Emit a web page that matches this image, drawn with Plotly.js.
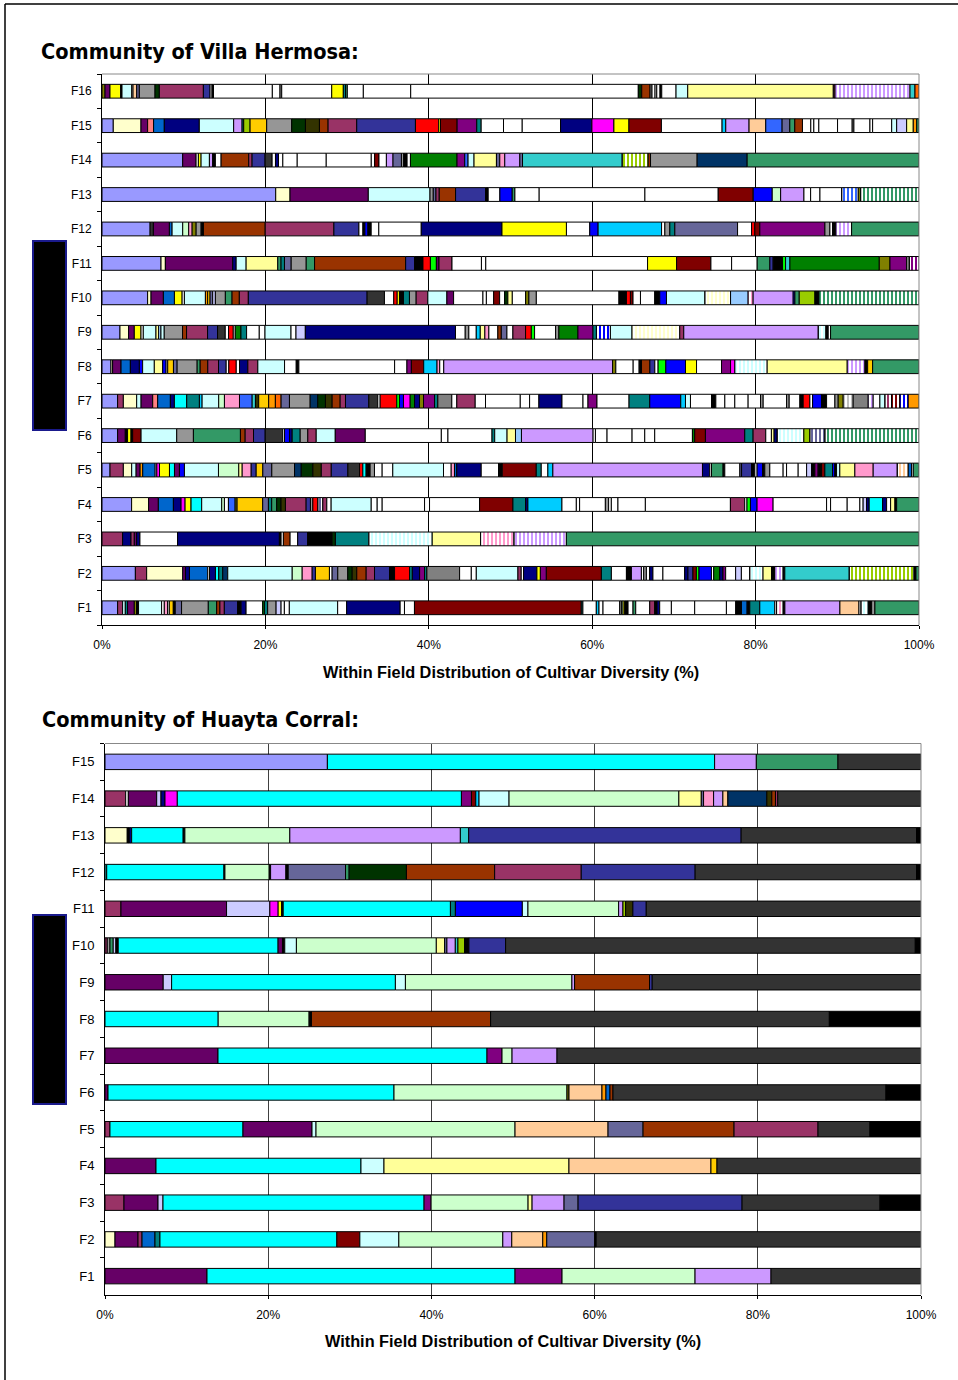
<!DOCTYPE html>
<html><head><meta charset="utf-8">
<script src="https://cdn.plot.ly/plotly-3.0.1.min.js"></script>
<style>html,body{margin:0;padding:0;background:#fff;}#chart{width:958px;height:1380px;}</style>
</head><body><div id="chart"></div>
<script>
// Cultivar colour keys (a trailing * means a striped fill)
const PAL = {lv:'#9999FF',pl:'#993366',ly:'#FFFFCC',lt:'#CCFFFF',dp:'#660066',co:'#FF8080',oc:'#0066CC',ib:'#CCCCFF',
 nv:'#000080',mg:'#FF00FF',ye:'#FFFF00',cy:'#00FFFF',pu:'#800080',dr:'#800000',te:'#008080',bl:'#0000FF',sk:'#00CCFF',
 lg:'#CCFFCC',y2:'#FFFF99',pb:'#99CCFF',ro:'#FF99CC',la:'#CC99FF',ta:'#FFCC99',lb:'#3366FF',aq:'#33CCCC',li:'#99CC00',
 go:'#FFCC00',lo:'#FF9900',or:'#FF6600',bg:'#666699',g4:'#969696',dt:'#003366',sg:'#339966',dg:'#003300',o2:'#333300',
 br:'#993300',in:'#333399',g8:'#333333',bk:'#000000',wh:'#FFFFFF',re:'#FF0000',gr:'#00FF00',gn:'#008000',ol:'#808000',
 g5:'#808080',si:'#C0C0C0'};

// ---- Community of Villa Hermosa: [share %, cultivar colour] ----
const VH_F16 = [[0.37,'ol'],[0.61,'dp'],[1.31,'ye'],[0.16,'bk'],[1.19,'lt'],[0.16,'wh'],[0.45,'ta'],[0.32,'bg'],[1.92,'g4'],[0.53,'dg'],[5.39,'pl'],[0.82,'in'],[0.24,'wh'],[0.18,'bk'],[7.20,'wh'],[0.94,'wh'],[0.21,'g4'],[6.12,'wh'],[1.42,'ye'],[0.27,'te'],[0.22,'sg'],[1.96,'wh'],[5.80,'wh'],[27.86,'wh'],[0.42,'dg'],[1.02,'br'],[0.24,'g4'],[0.37,'wh'],[0.21,'wh'],[0.40,'wh'],[0.21,'bk'],[1.75,'wh'],[1.43,'lt'],[17.82,'y2'],[0.21,'pl'],[9.18,'la*'],[0.61,'aq'],[0.49,'or']];
const VH_F15 = [[1.38,'lv'],[3.39,'ly'],[0.81,'dp'],[0.73,'co'],[1.31,'oc'],[4.28,'nv'],[4.20,'lt'],[1.03,'la'],[0.2,'te'],[0.78,'li'],[2.03,'go'],[3.06,'g4'],[1.68,'dg'],[1.71,'o2'],[1.06,'br'],[3.50,'pl'],[7.18,'in'],[2.85,'re'],[0.21,'ye'],[2.04,'dr'],[2.40,'pu'],[0.54,'te'],[2.73,'wh'],[2.29,'wh'],[4.69,'wh'],[3.83,'nv'],[2.69,'mg'],[1.84,'ye'],[3.97,'dr'],[7.42,'wh'],[0.45,'sk'],[2.85,'la'],[2.04,'ta'],[2.0,'lb'],[0.94,'bg'],[0.61,'sg'],[0.94,'br'],[1.02,'wh'],[0.37,'wh'],[0.61,'wh'],[2.29,'wh'],[1.79,'wh'],[0.21,'g4'],[1.96,'wh'],[0.33,'wh'],[2.33,'wh'],[0.61,'lt'],[1.22,'ib'],[0.81,'y2'],[0.42,'lo'],[0.28,'sg']];
const VH_F14 = [[9.87,'lv'],[1.64,'dp'],[0.28,'wh'],[0.33,'ye'],[1.02,'lt'],[0.4,'la'],[0.33,'bk'],[0.7,'wh'],[3.38,'br'],[0.41,'pl'],[1.59,'in'],[0.86,'g8'],[0.41,'wh'],[0.37,'nv'],[0.53,'wh'],[1.76,'wh'],[3.55,'wh'],[5.51,'wh'],[0.41,'wh'],[0.53,'dr'],[0.91,'wh'],[0.81,'la'],[1.03,'bg'],[0.28,'g4'],[0.41,'bk'],[0.41,'wh'],[5.7,'gn'],[0.94,'pu'],[0.41,'lb'],[0.73,'lt'],[2.74,'y2'],[0.41,'bg'],[0.61,'ro'],[1.84,'la'],[0.33,'bg'],[12.19,'aq'],[3.18,'li*'],[0.29,'br'],[5.7,'g4'],[6.12,'dt'],[21.02,'sg']];
const VH_F13 = [[21.26,'lv'],[1.75,'ly'],[9.58,'dp'],[7.55,'lt'],[0.4,'g4'],[0.33,'bg'],[0.4,'pl'],[2.0,'br'],[3.67,'in'],[0.32,'bk'],[1.43,'wh'],[1.51,'bl'],[0.33,'sg'],[2.97,'wh'],[12.94,'wh'],[8.97,'wh'],[4.28,'dr'],[2.33,'bl'],[1.03,'lg'],[2.85,'la'],[0.82,'wh'],[1.14,'wh'],[2.66,'wh'],[2.03,'lb*'],[0.29,'ol'],[7.14,'sg*']];
const VH_F12 = [[5.88,'lv'],[0.4,'g8'],[1.96,'dp'],[0.33,'oc'],[1.3,'lt'],[0.73,'lg'],[0.42,'ro'],[0.49,'ol'],[0.61,'g4'],[0.28,'bk'],[7.55,'br'],[8.4,'pl'],[3.06,'in'],[0.49,'wh'],[0.24,'bk'],[0.37,'bl'],[0.4,'bk'],[0.93,'wh'],[5.19,'wh'],[9.87,'nv'],[7.88,'ye'],[2.85,'wh'],[1.02,'bl'],[7.76,'sk'],[0.4,'wh'],[0.61,'g4'],[0.61,'te'],[7.67,'bg'],[1.71,'wh'],[0.4,'re'],[0.61,'dr'],[7.96,'pu'],[0.61,'g4'],[0.33,'wh'],[0.4,'bk'],[1.92,'la*'],[8.24,'sg']];
const VH_F11 = [[7.22,'lv'],[0.53,'ly'],[8.24,'dp'],[0.42,'nv'],[1.22,'lt'],[3.87,'y2'],[0.4,'sg'],[0.42,'te'],[0.82,'bg'],[1.84,'g4'],[1.02,'sg'],[11.14,'br'],[1.1,'in'],[1.02,'bk'],[0.91,'re'],[0.73,'gr'],[0.32,'dp'],[1.59,'pl'],[3.6,'wh'],[0.53,'wh'],[19.79,'wh'],[3.55,'ye'],[4.2,'dr'],[2.53,'wh'],[3.13,'wh'],[1.55,'sg'],[0.4,'in'],[1.15,'bk'],[0.37,'gr'],[0.53,'aq'],[10.93,'gn'],[1.31,'ol'],[2.04,'pu'],[0.32,'g4'],[1.19,'pu*']];
const VH_F10 = [[5.58,'lv'],[0.42,'ly'],[1.51,'dp'],[1.35,'oc'],[0.94,'ye'],[0.28,'wh'],[2.57,'lt'],[0.28,'lo'],[0.29,'go'],[0.32,'bg'],[0.33,'ib'],[1.22,'g4'],[0.82,'sg'],[0.89,'br'],[1.1,'pl'],[14.53,'in'],[2.12,'g8'],[1.14,'wh'],[0.42,'re'],[0.28,'ye'],[0.49,'bk'],[0.73,'te'],[0.82,'g4'],[1.43,'pl'],[2.33,'lt'],[0.82,'dp'],[3.59,'wh'],[0.42,'wh'],[0.89,'wh'],[0.73,'dr'],[0.61,'wh'],[0.4,'dg'],[0.54,'y2'],[1.63,'wh'],[0.4,'ol'],[0.91,'g4'],[10.11,'wh'],[0.91,'bk'],[0.49,'re'],[0.32,'dr'],[0.91,'wh'],[1.75,'wh'],[0.61,'bk'],[0.82,'bl'],[4.69,'lt'],[3.15,'ly*'],[2.15,'pb'],[0.61,'ro*'],[4.9,'la'],[0.21,'bl'],[0.53,'sg'],[1.92,'li'],[0.49,'bk'],[12.24,'sg*']];
const VH_F9 = [[2.2,'lv'],[1.05,'ly'],[0.7,'dp'],[0.82,'ye'],[0.28,'wh'],[1.55,'lt'],[0.32,'y2'],[0.29,'pb'],[0.4,'lt'],[2.24,'g4'],[0.49,'br'],[2.57,'pl'],[1.22,'in'],[0.94,'g8'],[0.4,'wh'],[0.58,'re'],[0.24,'wh'],[0.7,'gn'],[0.69,'te'],[1.55,'wh'],[0.7,'wh'],[3.18,'lt'],[0.61,'wh'],[1.14,'ib'],[18.36,'nv'],[1.19,'wh'],[0.44,'g4'],[0.91,'wh'],[0.49,'sk'],[0.56,'y2'],[0.49,'ro'],[1.1,'wh'],[0.42,'br'],[0.69,'bg'],[0.73,'wh'],[1.55,'pl'],[0.7,'re'],[0.4,'gr'],[2.57,'wh'],[0.4,'g4'],[2.33,'gn'],[1.84,'pu'],[0.42,'te'],[1.71,'bl*'],[2.64,'lt'],[5.84,'ly*'],[0.49,'pl'],[16.44,'la'],[0.94,'lt*'],[0.28,'bk'],[0.29,'wh'],[10.81,'sg']];
const VH_F8 = [[1.1,'lv'],[0.2,'ly'],[1.03,'dp'],[1.14,'oc'],[1.1,'nv'],[0.4,'bl'],[1.43,'lt'],[1.02,'y2'],[0.42,'bl'],[0.2,'wh'],[0.7,'go'],[0.45,'bg'],[2.45,'g4'],[0.37,'sg'],[0.93,'br'],[1.31,'pl'],[0.94,'in'],[0.32,'wh'],[0.91,'re'],[0.4,'wh'],[1.02,'nv'],[1.22,'pl'],[3.27,'lt'],[1.43,'wh'],[0.32,'bk'],[11.71,'wh'],[1.51,'wh'],[0.54,'pu'],[1.51,'dr'],[1.63,'sk'],[0.33,'ro'],[0.49,'wh'],[20.65,'la'],[0.4,'ol'],[2.12,'wh'],[0.73,'wh'],[0.29,'bk'],[1.02,'br'],[0.61,'in'],[0.4,'wh'],[0.94,'gr'],[2.41,'bl'],[1.35,'ye'],[3.06,'wh'],[1.1,'pu'],[0.53,'mg'],[3.95,'lt*'],[9.79,'y2'],[2.17,'la*'],[0.33,'bk'],[0.61,'go'],[5.67,'sg']];
const VH_F7 = [[1.91,'lv'],[0.7,'pl'],[1.63,'ly'],[0.54,'lt'],[1.42,'dp'],[0.61,'co'],[1.55,'oc'],[0.49,'nv'],[1.51,'cy'],[1.55,'te'],[0.33,'sk'],[2.03,'lt'],[0.7,'lg'],[1.84,'ro'],[1.55,'lb'],[0.4,'aq'],[0.4,'o2'],[1.22,'go'],[0.82,'lo'],[0.7,'or'],[1.02,'bg'],[2.53,'g4'],[0.93,'dt'],[0.94,'dg'],[0.82,'o2'],[0.98,'br'],[0.65,'pl'],[2.85,'in'],[1.1,'g8'],[0.29,'wh'],[2.03,'re'],[0.33,'gr'],[0.49,'bl'],[0.82,'mg'],[0.53,'gn'],[0.61,'nv'],[0.49,'ol'],[1.35,'pu'],[0.4,'te'],[1.71,'g5'],[0.61,'wh'],[2.25,'pl'],[1.26,'wh'],[4.25,'wh'],[1.14,'wh'],[1.14,'wh'],[2.82,'nv'],[2.57,'wh'],[0.61,'wh'],[1.1,'pu'],[3.92,'wh'],[2.53,'te'],[3.79,'bl'],[0.58,'sk'],[0.61,'lt'],[2.57,'wh'],[0.53,'bk'],[1.1,'wh'],[1.22,'wh'],[1.63,'wh'],[1.52,'wh'],[0.32,'g4'],[2.86,'wh'],[0.32,'g4'],[1.31,'wh'],[0.4,'bk'],[0.82,'re'],[0.33,'wh'],[1.1,'bl'],[0.61,'bk'],[1.02,'wh'],[0.4,'g4'],[0.61,'ol'],[1.22,'si*'],[1.84,'g5'],[0.61,'la*'],[0.82,'wh'],[0.61,'lt'],[0.82,'pl*'],[1.02,'dr*'],[1.02,'bl*'],[1.31,'lo']];
const VH_F6 = [[1.91,'lv'],[0.94,'dp'],[0.28,'bk'],[0.42,'ye'],[0.2,'bk'],[1.03,'dr'],[4.36,'lt'],[2.04,'g4'],[5.75,'sg'],[0.58,'br'],[1.02,'pl'],[1.43,'in'],[2.15,'g8'],[0.21,'wh'],[0.61,'bl'],[0.33,'nv'],[0.98,'te'],[0.93,'g4'],[1.03,'pl'],[2.33,'lt'],[3.67,'dp'],[9.3,'wh'],[0.81,'wh'],[5.39,'wh'],[0.33,'te'],[1.51,'lt'],[1.03,'y2'],[0.73,'pb'],[8.76,'la'],[0.29,'wh'],[1.42,'wh'],[3.06,'wh'],[1.55,'wh'],[1.22,'wh'],[4.61,'wh'],[0.28,'gn'],[1.31,'dr'],[4.81,'pu'],[1.02,'te'],[1.55,'pl'],[0.69,'wh'],[0.33,'y2'],[0.37,'nv'],[3.27,'lt*'],[0.73,'li'],[1.84,'bg*'],[11.51,'sg*']];
const VH_F5 = [[0.98,'lv'],[1.63,'pl'],[1.02,'ly'],[0.54,'lt'],[0.49,'dp'],[0.32,'lo'],[1.52,'oc'],[0.2,'wh'],[0.33,'mg'],[1.22,'ye'],[0.61,'cy'],[0.61,'dp'],[0.61,'bl'],[4.16,'lt'],[2.48,'lg'],[0.42,'y2'],[1.1,'ro'],[0.61,'in'],[0.81,'go'],[1.1,'bg'],[2.78,'g4'],[0.82,'dt'],[1.42,'dg'],[1.03,'o2'],[1.22,'pl'],[2.03,'in'],[1.43,'g8'],[0.4,'re'],[0.4,'cy'],[0.49,'bk'],[0.53,'g4'],[0.94,'wh'],[1.3,'wh'],[6.2,'lt'],[0.94,'wh'],[0.4,'ro'],[0.28,'oc'],[2.99,'nv'],[2.12,'wh'],[0.45,'bk'],[4.16,'dr'],[0.61,'te'],[0.81,'wh'],[0.61,'sk'],[18.29,'la'],[0.89,'nv'],[0.21,'wh'],[1.42,'sg'],[0.21,'bk'],[1.84,'wh'],[0.21,'bg'],[1.22,'in'],[0.4,'bk'],[0.28,'wh'],[0.66,'bl'],[0.28,'bk'],[0.61,'g4'],[1.63,'wh'],[0.42,'wh'],[1.42,'wh'],[1.03,'wh'],[0.61,'ib'],[0.4,'bk'],[0.4,'pu'],[0.42,'bk'],[0.4,'dr'],[0.94,'te'],[0.28,'bl'],[0.21,'bk'],[0.4,'lt'],[1.84,'y2'],[2.24,'ro'],[2.94,'la'],[1.35,'ta*'],[0.4,'oc'],[0.21,'wh'],[0.7,'sg']];
const VH_F4 = [[3.62,'lv'],[2.08,'ly'],[1.19,'dp'],[1.84,'oc'],[0.94,'nv'],[0.49,'mg'],[0.73,'ye'],[1.3,'cy'],[2.45,'lt'],[0.33,'lg'],[0.49,'wh'],[0.82,'lb'],[0.24,'ol'],[3.13,'go'],[0.7,'bg'],[0.4,'te'],[0.61,'sg'],[0.53,'dg'],[0.54,'o2'],[2.53,'pl'],[0.53,'in'],[0.29,'g4'],[0.61,'re'],[0.61,'bg*'],[0.49,'pl'],[0.53,'wh'],[4.9,'lt'],[0.73,'wh'],[0.61,'wh'],[5.18,'wh'],[0.61,'wh'],[6.12,'wh'],[4.08,'dr'],[1.55,'te'],[0.28,'nv'],[4.16,'sk'],[1.76,'wh'],[0.4,'wh'],[3.15,'wh'],[0.4,'g4'],[0.33,'wh'],[0.81,'wh'],[3.35,'wh'],[10.4,'wh'],[1.75,'pl'],[0.28,'wh'],[0.42,'gr'],[0.81,'bl'],[1.96,'mg'],[6.54,'wh'],[0.49,'wh'],[2.03,'wh'],[1.55,'wh'],[0.4,'wh'],[0.42,'ib'],[0.32,'nv'],[1.64,'cy'],[0.49,'nv'],[0.49,'wh'],[0.53,'y2'],[0.21,'bk'],[2.73,'sg']];
const VH_F3 = [[2.52,'pl'],[1.03,'nv'],[0.4,'pl'],[0.29,'dp'],[0.4,'nv'],[4.6,'wh'],[12.45,'nv'],[0.21,'bk'],[0.28,'wh'],[0.82,'br'],[0.93,'wh'],[1.22,'in'],[2.99,'bk'],[0.4,'dg'],[4.08,'te'],[7.76,'lt*'],[5.91,'y2'],[4.08,'ro*'],[6.41,'la*'],[43.12,'sg']];
const VH_F2 = [[4.08,'lv'],[1.38,'pl'],[4.41,'ly'],[0.33,'dp'],[0.49,'nv'],[2.24,'oc'],[0.21,'wh'],[0.73,'nv'],[0.4,'cy'],[0.49,'te'],[0.61,'dt'],[7.88,'lt'],[1.22,'lg'],[1.22,'ro'],[0.4,'in'],[1.71,'go'],[0.33,'wh'],[0.69,'bg'],[1.22,'g4'],[0.54,'dg'],[0.56,'o2'],[1.15,'br'],[1.02,'pl'],[1.84,'in'],[0.61,'bk'],[1.84,'re'],[0.33,'te'],[0.89,'nv'],[0.61,'pu'],[0.28,'te'],[4.0,'g5'],[1.43,'wh'],[0.61,'wh'],[5.09,'lt'],[0.4,'pl'],[0.29,'wh'],[1.63,'nv'],[0.42,'ye'],[0.73,'pu'],[6.73,'dr'],[1.22,'te'],[1.84,'wh'],[0.61,'bk'],[1.22,'la'],[0.28,'wh'],[0.33,'g4'],[0.4,'wh'],[0.4,'nv'],[1.22,'wh'],[2.66,'wh'],[0.4,'nv'],[0.61,'in'],[0.42,'dr'],[0.32,'gr'],[1.52,'bl'],[0.28,'wh'],[0.73,'gn'],[0.4,'nv'],[0.33,'pu'],[1.22,'wh'],[0.7,'ib'],[1.02,'wh'],[1.63,'lt*'],[1.03,'y2'],[0.4,'bk'],[1.02,'la*'],[0.21,'bk'],[7.87,'aq'],[7.92,'li*'],[0.24,'bk'],[0.37,'sg']];
const VH_F1 = [[1.91,'lv'],[0.61,'pl'],[0.33,'lt'],[0.28,'te'],[0.82,'dp'],[0.28,'ol'],[0.24,'bk'],[2.82,'lt'],[0.33,'wh'],[0.4,'ro'],[0.21,'wh'],[0.49,'go'],[0.24,'bk'],[0.77,'bg'],[3.27,'g4'],[1.02,'sg'],[0.4,'br'],[0.54,'pl'],[1.63,'in'],[0.42,'bk'],[0.61,'nv'],[2.03,'wh'],[0.21,'gn'],[0.4,'te'],[1.03,'g4'],[0.61,'ib'],[0.4,'wh'],[0.61,'wh'],[5.91,'lt'],[1.1,'wh'],[6.54,'nv'],[0.53,'wh'],[1.22,'wh'],[20.4,'dr'],[0.2,'te'],[1.64,'wh'],[0.33,'sk'],[0.49,'wh'],[2.04,'wh'],[0.21,'g4'],[0.2,'lg'],[0.21,'ye'],[0.4,'bk'],[0.61,'wh'],[0.33,'sg'],[1.71,'wh'],[0.61,'pl'],[0.28,'bk'],[0.33,'nv'],[1.43,'wh'],[2.85,'wh'],[3.88,'wh'],[1.14,'wh'],[0.7,'bk'],[0.69,'oc'],[0.33,'bk'],[1.22,'te'],[1.84,'sk'],[0.21,'wh'],[0.81,'ro*'],[0.21,'bk'],[6.73,'la'],[2.33,'ta'],[0.24,'wh'],[0.89,'lt*'],[0.42,'bk'],[0.4,'g4'],[5.39,'sg']];

// ---- Community of Huayta Corral ----
const HC_F15 = [[27.24,'lv'],[47.43,'cy'],[5.11,'la'],[10.0,'sg'],[10.17,'g8']];
const HC_F14 = [[2.54,'pl'],[0.32,'wh'],[3.48,'dp'],[0.53,'ib'],[0.49,'nv'],[1.51,'mg'],[34.85,'cy'],[1.23,'pu'],[0.53,'dr'],[0.4,'sk'],[3.68,'lt'],[20.83,'lg'],[2.75,'y2'],[0.28,'bg'],[1.23,'ro'],[1.14,'la'],[0.61,'ta'],[4.78,'dt'],[0.61,'o2'],[0.45,'br'],[0.28,'pl'],[17.57,'g8']];
const HC_F13 = [[2.73,'ly'],[0.25,'bk'],[0.29,'nv'],[6.32,'cy'],[0.21,'bk'],[12.87,'lg'],[20.92,'la'],[1.02,'aq'],[33.42,'in'],[21.52,'g8'],[0.54,'bk']];
const HC_F12 = [[0.21,'aq'],[14.38,'cy'],[0.12,'bk'],[5.43,'lg'],[0.17,'bk'],[1.88,'la'],[0.28,'bk'],[7.03,'bg'],[0.44,'sg'],[7.03,'dg'],[10.82,'br'],[10.62,'pl'],[13.97,'in'],[27.16,'g8'],[0.54,'bk']];
const HC_F11 = [[1.96,'pl'],[12.95,'dp'],[5.31,'ib'],[1.02,'mg'],[0.42,'ye'],[0.2,'bk'],[20.51,'cy'],[0.61,'te'],[8.21,'bl'],[0.69,'lt'],[11.12,'lg'],[0.53,'la'],[0.33,'li'],[0.89,'o2'],[1.64,'in'],[33.7,'g8']];
const HC_F10 = [[0.28,'pl'],[0.33,'g4'],[0.4,'sg'],[0.33,'ib'],[0.28,'bk'],[19.61,'cy'],[0.54,'dp'],[0.28,'bk'],[1.43,'lt'],[17.16,'lg'],[1.02,'y2'],[0.28,'bg'],[1.03,'la'],[0.32,'aq'],[0.82,'li'],[0.53,'bk'],[4.5,'in'],[50.25,'g8'],[0.7,'bk']];
const HC_F9 = [[7.14,'dp'],[1.03,'ib'],[27.45,'cy'],[1.23,'lt'],[20.42,'lg'],[0.33,'la'],[9.19,'br'],[0.33,'in'],[32.97,'g8']];
const HC_F8 = [[13.88,'cy'],[11.15,'lg'],[0.29,'bk'],[21.97,'br'],[41.54,'g8'],[11.24,'bk']];
const HC_F7 = [[13.85,'dp'],[32.97,'cy'],[1.84,'pu'],[1.23,'lg'],[5.51,'la'],[44.61,'g8']];
const HC_F6 = [[0.37,'dp'],[35.05,'cy'],[21.2,'lg'],[0.25,'ol'],[4.04,'ta'],[0.49,'lo'],[0.49,'oc'],[0.37,'br'],[33.46,'g8'],[4.29,'bk']];
const HC_F5 = [[0.61,'pl'],[16.3,'cy'],[8.46,'dp'],[0.49,'lt'],[24.39,'lg'],[11.4,'ta'],[4.29,'bg'],[11.15,'br'],[10.29,'pl'],[6.37,'g8'],[6.25,'bk']];
const HC_F4 = [[6.25,'dp'],[25.12,'cy'],[2.82,'lt'],[22.67,'y2'],[17.4,'ta'],[0.74,'go'],[25.0,'g8']];
const HC_F3 = [[2.33,'pl'],[4.17,'dp'],[0.61,'ib'],[32.0,'cy'],[0.86,'pu'],[11.89,'lg'],[0.49,'y2'],[3.92,'la'],[1.72,'bg'],[20.1,'in'],[16.91,'g8'],[5.02,'bk']];
const HC_F2 = [[1.23,'ly'],[2.82,'dp'],[0.49,'pl'],[1.59,'oc'],[0.61,'te'],[21.69,'cy'],[2.82,'dr'],[4.78,'lt'],[12.75,'lg'],[1.1,'la'],[3.8,'ta'],[0.49,'lo'],[5.88,'bg'],[0.18,'bk'],[39.83,'g8']];
const HC_F1 = [[12.5,'dp'],[37.75,'cy'],[5.76,'pu'],[16.3,'lg'],[9.31,'la'],[18.38,'g8']];

const VH_LABELS = ['F1','F2','F3','F4','F5','F6','F7','F8','F9','F10','F11','F12','F13','F14','F15','F16'];
const VH_ROWS = [VH_F1,VH_F2,VH_F3,VH_F4,VH_F5,VH_F6,VH_F7,VH_F8,VH_F9,VH_F10,VH_F11,VH_F12,VH_F13,VH_F14,VH_F15,VH_F16];
const HC_LABELS = ['F1','F2','F3','F4','F5','F6','F7','F8','F9','F10','F11','F12','F13','F14','F15'];
const HC_ROWS = [HC_F1,HC_F2,HC_F3,HC_F4,HC_F5,HC_F6,HC_F7,HC_F8,HC_F9,HC_F10,HC_F11,HC_F12,HC_F13,HC_F14,HC_F15];

const X_TICKS = [0, 20, 40, 60, 80, 100];
const X_TICK_TEXT = ['0%', '20%', '40%', '60%', '80%', '100%'];

const TITLE_VH = 'Community of Villa Hermosa:';
const TITLE_HC = 'Community of Huayta Corral:';
const X_TITLE = 'Within Field Distribution of Cultivar Diversity (%)';

function buildTrace(rows, labels, xa, ya, w) {
  const x=[], base=[], y=[], col=[], shp=[];
  rows.forEach((row, i) => {
    const tot = row.reduce((s, r) => s + r[0], 0);
    let acc = 0;
    row.forEach(([v, k]) => {
      const pct = v / tot * 100;
      const striped = k.endsWith('*');
      const key = striped ? k.slice(0, -1) : k;
      x.push(pct); base.push(acc); y.push(labels[i]);
      col.push(PAL[key]);
      shp.push(striped ? '|' : '');
      acc += pct;
    });
  });
  return {type:'bar', orientation:'h', x:x, base:base, y:y, xaxis:xa, yaxis:ya, width:w,
    marker:{color:col, line:{color:'#000000', width:1},
      pattern:{shape:shp, bgcolor:'#FFFFFF', size:4, solidity:0.5, fillmode:'replace'}},
    hoverinfo:'skip', showlegend:false};
}

const W = 958, H = 1380;
const px = v => v / W, py = v => 1 - v / H;
const tickFont = {family:'Liberation Sans, Arial, sans-serif', size:12, color:'#000'};

function xAxis(dom, anchor, grid) {
  return {domain:dom, anchor:anchor, range:[0,100], tickmode:'array', tickvals:X_TICKS, ticktext:X_TICK_TEXT,
    showgrid:true, gridcolor:grid, gridwidth:1, zeroline:false, showline:true, linecolor:'#000', linewidth:1,
    ticks:'outside', ticklen:3, tickcolor:'#000', tickfont:tickFont, ticklabelstandoff:6, fixedrange:true};
}
function yAxis(dom, anchor, labels, size) {
  return {domain:dom, anchor:anchor, type:'category', categoryorder:'array', categoryarray:labels,
    range:[-0.5, labels.length - 0.5], showgrid:false, zeroline:false, showline:true, linecolor:'#000', linewidth:1,
    ticks:'outside', tickson:'boundaries', ticklen:4, tickcolor:'#000',
    tickfont:{family:'Liberation Sans, Arial, sans-serif', size:size, color:'#000'}, ticklabelstandoff:7, fixedrange:true};
}

const data = [
  buildTrace(VH_ROWS, VH_LABELS, 'x', 'y', 0.4),
  buildTrace(HC_ROWS, HC_LABELS, 'x2', 'y2', 0.42)
];

const titleFont = {family:'DejaVu Sans Condensed, DejaVu Sans, sans-serif', size:21.5, color:'#000'};
const axTitleFont = {family:'Liberation Sans, Arial, sans-serif', size:16.3, color:'#000'};

const layout = {
  width:W, height:H, margin:{l:0, r:0, t:0, b:0}, paper_bgcolor:'#fff', plot_bgcolor:'#fff',
  barmode:'overlay', showlegend:false,
  xaxis: xAxis([px(102), px(919)], 'y', '#000000'),
  yaxis: yAxis([py(625), py(74)], 'x', VH_LABELS, 12),
  xaxis2: xAxis([px(105), px(921)], 'y2', '#404040'),
  yaxis2: yAxis([py(1294.5), py(743.5)], 'x2', HC_LABELS, 13),
  annotations: [
    {text:'<b>' + TITLE_VH + '</b>', xref:'paper', yref:'paper', x:px(39), y:py(51), xanchor:'left', yanchor:'middle', showarrow:false, font:titleFont},
    {text:'<b>' + TITLE_HC + '</b>', xref:'paper', yref:'paper', x:px(40), y:py(719), xanchor:'left', yanchor:'middle', showarrow:false, font:titleFont},
    {text:'<b>' + X_TITLE + '</b>', xref:'paper', yref:'paper', x:px(511), y:py(672), xanchor:'center', yanchor:'middle', showarrow:false, font:axTitleFont},
    {text:'<b>' + X_TITLE + '</b>', xref:'paper', yref:'paper', x:px(513), y:py(1341), xanchor:'center', yanchor:'middle', showarrow:false, font:axTitleFont}
  ],
  shapes: [
    // page frame
    {type:'line', xref:'paper', yref:'paper', x0:px(5), x1:1, y0:py(4), y1:py(4), line:{color:'#000', width:1.5}},
    {type:'line', xref:'paper', yref:'paper', x0:px(5), x1:px(5), y0:0, y1:py(4), line:{color:'#000', width:1.5}},
    // plot-area borders (top, right) in grey
    {type:'line', xref:'x domain', yref:'y domain', x0:0, x1:1, y0:1, y1:1, line:{color:'#888', width:1}, layer:'above'},
    {type:'line', xref:'x domain', yref:'y domain', x0:1, x1:1, y0:0, y1:1, line:{color:'#888', width:1}, layer:'above'},
    {type:'line', xref:'x2 domain', yref:'y2 domain', x0:0, x1:1, y0:1, y1:1, line:{color:'#888', width:1}, layer:'above'},
    {type:'line', xref:'x2 domain', yref:'y2 domain', x0:1, x1:1, y0:0, y1:1, line:{color:'#888', width:1}, layer:'above'},
    // masked y-axis title blocks
    {type:'rect', xref:'paper', yref:'paper', x0:px(33), x1:px(66), y0:py(430), y1:py(241), fillcolor:'#000', line:{color:'#1a1a8c', width:2}},
    {type:'rect', xref:'paper', yref:'paper', x0:px(33), x1:px(66), y0:py(1104), y1:py(915), fillcolor:'#000', line:{color:'#1a1a8c', width:2}}
  ]
};

Plotly.newPlot('chart', data, layout, {staticPlot:true, displayModeBar:false});
</script></body></html>
